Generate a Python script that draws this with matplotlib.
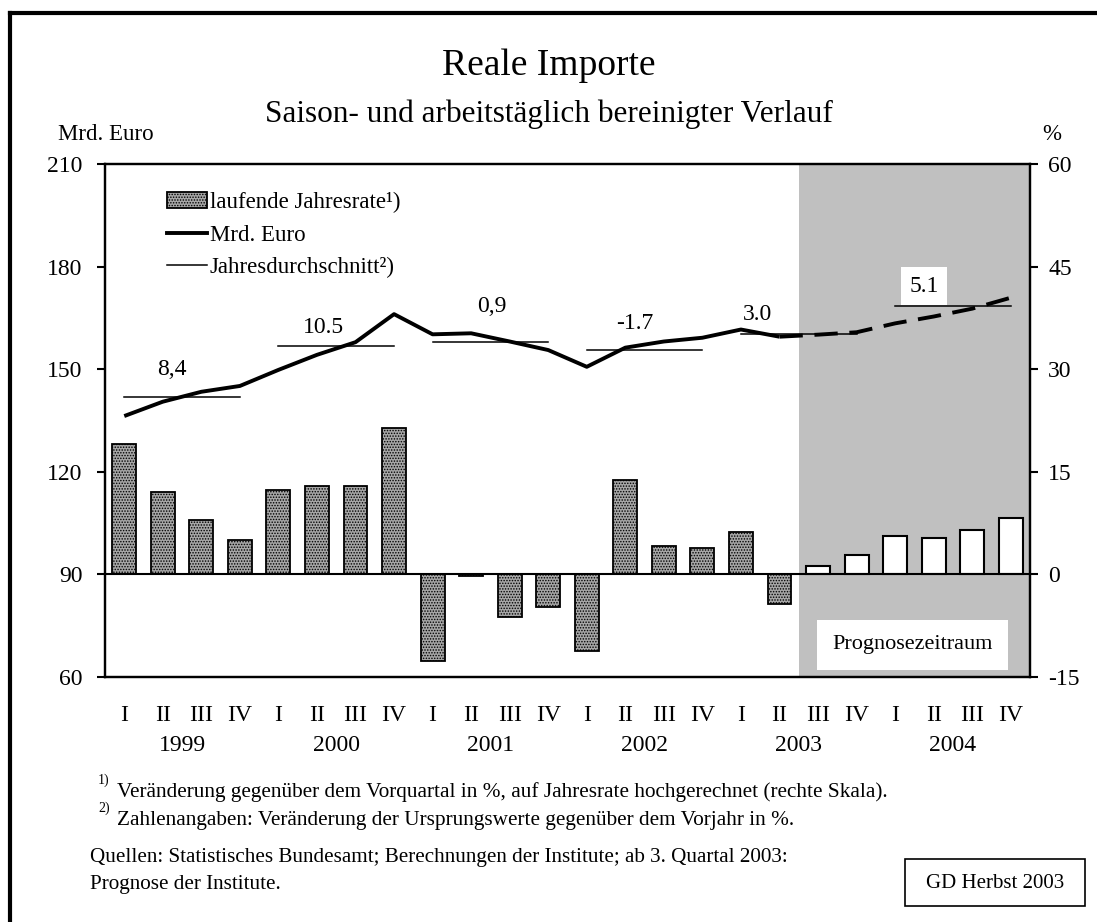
import numpy as np
import matplotlib
matplotlib.use("Agg")
import matplotlib.pyplot as plt
from matplotlib.patches import Patch, Rectangle
from matplotlib.lines import Line2D

plt.rcParams['font.family'] = ['Liberation Serif', 'DejaVu Serif']
plt.rcParams['hatch.linewidth'] = 0.7
plt.rcParams['axes.unicode_minus'] = False

W, H = 1097, 922

quarters = ["I", "II", "III", "IV"] * 6
years = ["1999", "2000", "2001", "2002", "2003", "2004"]

# laufende Jahresrate in % (rechte Skala)
rate = [19.1, 12.0, 8.0, 5.0, 12.3, 12.9, 12.9, 21.4,
        -12.6, -0.3, -6.3, -4.8, -11.2, 13.8, 4.1, 3.8,
        6.2, -4.4, 1.2, 2.9, 5.6, 5.3, 6.5, 8.2]

# Mrd. Euro (linke Skala)
level = [136.3, 140.5, 143.4, 145.1, 149.8, 154.2, 157.9, 166.1,
         160.2, 160.5, 158.1, 155.6, 150.7, 156.3, 158.1, 159.2,
         161.6, 159.5, 160.1, 160.8, 163.4, 165.4, 167.7, 170.9]

# Jahresdurchschnitt (Mrd. Euro) and labels
year_avg = [142.0, 156.8, 157.9, 155.5, 160.2, 168.5]
year_lbl = ["8,4", "10.5", "0,9", "-1.7", "3.0", "5.1"]
lbl_pos = [(1.24, 149.8), (5.16, 162.3), (9.54, 168.2),
           (13.25, 163.5), (16.44, 166.1), (20.75, 174.3)]

first_forecast = 18

fig = plt.figure(figsize=(W / 100, H / 100), dpi=100)


def fx(px):
    return px / W


def fy(py):
    return 1 - py / H


ax = fig.add_axes([fx(105), fy(677), fx(1030) - fx(105), fy(164) - fy(677)])
ax2 = ax.twinx()

n = len(rate)
x = np.arange(n)

# forecast shading
ax.axvspan(first_forecast - 0.5, n - 0.5, color="#c0c0c0", lw=0, zorder=0)

# line
ax.plot(x[:first_forecast], level[:first_forecast], color="black", lw=2.8,
        solid_capstyle="butt", zorder=3)
ax.plot(x[first_forecast - 1:], level[first_forecast - 1:], color="black",
        lw=2.8, dashes=(6, 3), zorder=3)

# yearly averages
for k, avg in enumerate(year_avg):
    ax.plot([4 * k, 4 * k + 3], [avg, avg], color="black", lw=1.1, zorder=2)
for k, (t, (px_, py_)) in enumerate(zip(year_lbl, lbl_pos)):
    kw = {}
    if k == len(year_lbl) - 1:
        kw["bbox"] = dict(facecolor="white", edgecolor="none", pad=6)
    ax.text(px_, py_, t, ha="center", va="center", fontsize=17, zorder=4, **kw)

ax.set_xlim(-0.5, n - 0.5)
ax.set_ylim(60, 210)
ax.set_yticks(np.arange(60, 211, 30))

# bars
bar_face = "#a6a6a6"
hist = slice(0, first_forecast)
ax2.bar(x[hist], rate[hist], width=0.62, facecolor=bar_face,
        edgecolor="black", hatch="......", lw=1.3, zorder=2)
ax2.bar(x[first_forecast:], rate[first_forecast:], width=0.62,
        facecolor="white", edgecolor="black", lw=1.5, zorder=2)
ax2.axhline(0, color="black", lw=1.5, zorder=3)
ax2.set_ylim(-15, 60)
ax2.set_yticks(np.arange(-15, 61, 15))

# ticks
for a in (ax, ax2):
    for s in a.spines.values():
        s.set_linewidth(1.6)
    a.tick_params(axis="y", direction="out", length=6, width=1.5, labelsize=17)
ax.tick_params(axis="y", pad=10)
ax2.tick_params(axis="y", pad=7)
ax.set_xticks(np.arange(-0.5, n, 1))
ax.set_xticklabels([])
ax.tick_params(axis="x", direction="out", length=5, width=1.5)
ax.set_xticks(x, minor=True)
ax.set_xticklabels(quarters, minor=True)
ax.tick_params(axis="x", which="minor", length=0, labelsize=17, pad=20)
ax2.set_xticks([])

for k, yr in enumerate(years):
    ax.text(4 * k + 1.5, -0.133, yr, transform=ax.get_xaxis_transform(),
            ha="center", va="center", fontsize=17)

# Prognosezeitraum box
ax2.text(20.45, -10.3, "Prognosezeitraum", ha="center", va="center",
         fontsize=16, zorder=5,
         bbox=dict(facecolor="white", edgecolor="none", pad=11))

# legend
handles = [Patch(facecolor=bar_face, edgecolor="black", hatch="......", lw=1.3),
           Line2D([], [], color="black", lw=2.8),
           Line2D([], [], color="black", lw=1.1)]
labels = ["laufende Jahresrate¹)", "Mrd. Euro", "Jahresdurchschnitt²)"]
leg = ax2.legend(handles, labels, loc="upper left",
                 bbox_to_anchor=(fx(167), fy(192)), bbox_transform=fig.transFigure,
                 frameon=False, fontsize=16.5, handlelength=1.75, handletextpad=0.12,
                 labelspacing=0.5, borderaxespad=0, borderpad=0)

# titles
fig.text(0.5, fy(66), "Reale Importe", ha="center", va="center", fontsize=27)
fig.text(0.5, fy(114), "Saison- und arbeitstäglich bereinigter Verlauf",
         ha="center", va="center", fontsize=22.5)
fig.text(fx(58), fy(134), "Mrd. Euro", ha="left", va="center", fontsize=16.5)
fig.text(fx(1052), fy(134), "%", ha="center", va="center", fontsize=16.5)

# footnotes
fig.text(fx(98), fy(780), "1)", ha="left", va="center", fontsize=10)
fig.text(fx(117), fy(792),
         "Veränderung gegenüber dem Vorquartal in %, auf Jahresrate hochgerechnet (rechte Skala).",
         ha="left", va="center", fontsize=15.3)
fig.text(fx(98), fy(808), "2)", ha="left", va="center", fontsize=10)
fig.text(fx(117), fy(820),
         "Zahlenangaben: Veränderung der Ursprungswerte gegenüber dem Vorjahr in %.",
         ha="left", va="center", fontsize=15.3)
fig.text(fx(90), fy(857),
         "Quellen: Statistisches Bundesamt; Berechnungen der Institute; ab 3. Quartal 2003:",
         ha="left", va="center", fontsize=15.2)
fig.text(fx(90), fy(884), "Prognose der Institute.", ha="left", va="center",
         fontsize=15.2)

# GD box
fig.add_artist(Rectangle((fx(905), fy(906)), fx(1085) - fx(905), fy(859) - fy(906),
                         transform=fig.transFigure, facecolor="white",
                         edgecolor="black", lw=1.2))
fig.text(fx(995), fy(883), "GD Herbst 2003", ha="center", va="center", fontsize=15)

# outer frame
fig.add_artist(Line2D([fx(10), fx(1097)], [fy(13), fy(13)], color="black", lw=3,
                      transform=fig.transFigure))
fig.add_artist(Line2D([fx(10), fx(10)], [fy(13), fy(922)], color="black", lw=3,
                      transform=fig.transFigure))

fig.savefig("out.png", dpi=100)
